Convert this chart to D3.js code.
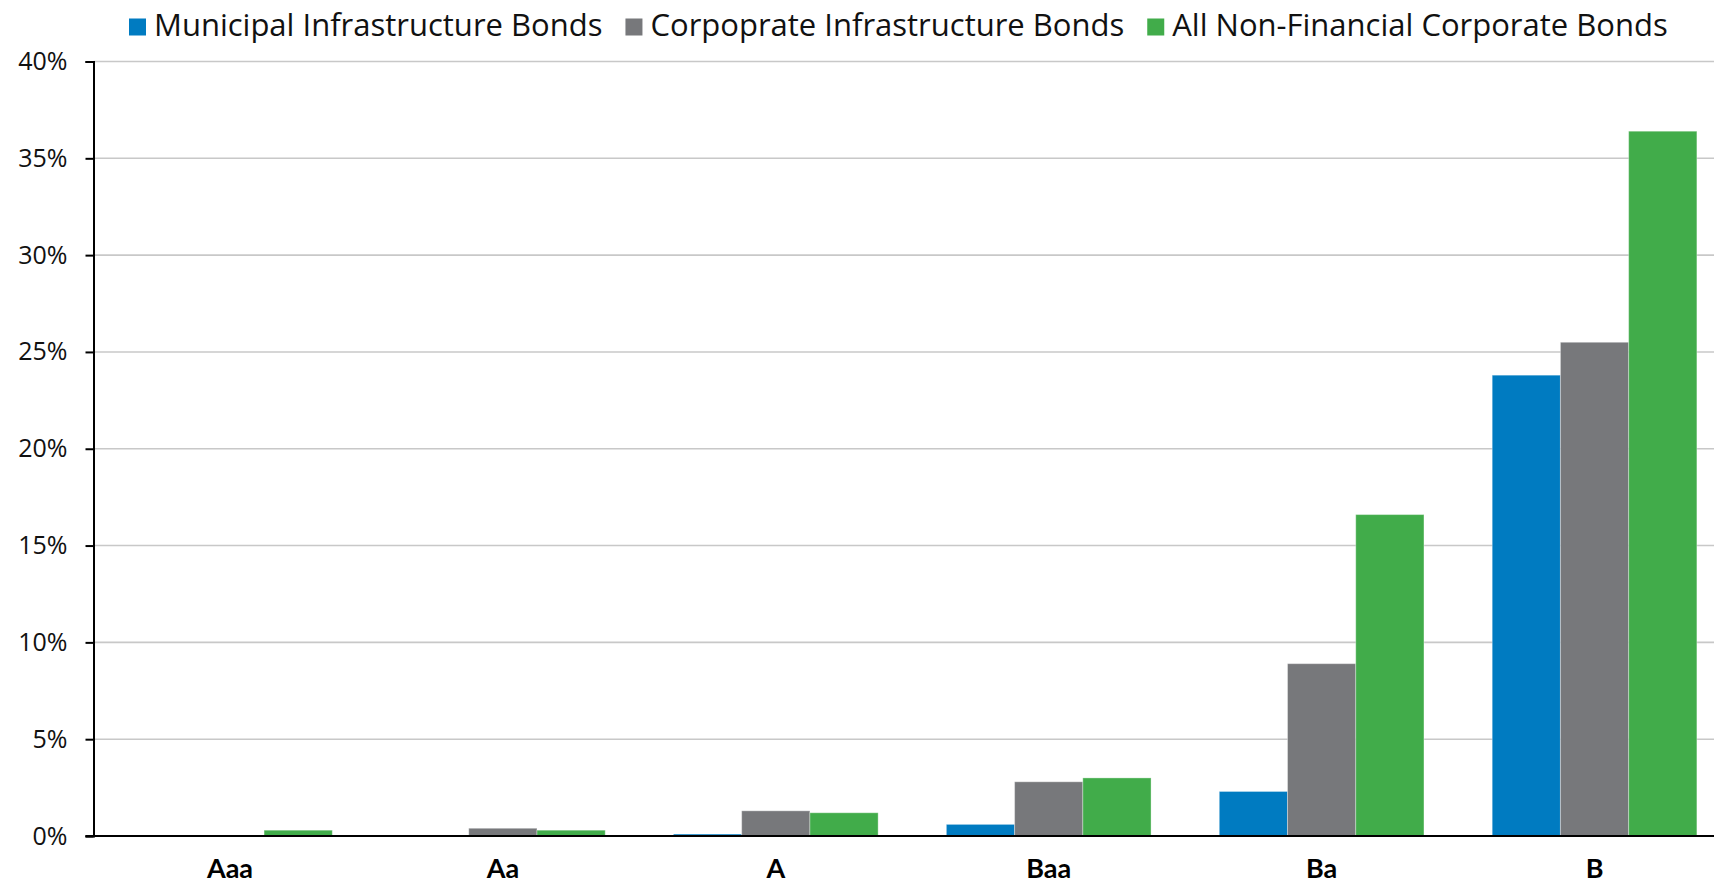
<!DOCTYPE html>
<html>
<head>
<meta charset="utf-8">
<script src="https://cdn.jsdelivr.net/npm/d3@7"></script>
<style>
  body { margin: 0; background: #fff; }
  svg { display: block; font-family: "Open Sans", Lato, sans-serif; }
</style>
</head>
<body>
<div class="chart"></div>
<script>
// Data
const ratings = ["Aaa", "Aa", "A", "Baa", "Ba", "B"];
const seriesNames = [
  "Municipal Infrastructure Bonds",
  "Corpoprate Infrastructure Bonds",
  "All Non-Financial Corporate Bonds"
];
const municipal = [0, 0, 0.1, 0.6, 2.3, 23.8];
const corporate = [0, 0.4, 1.3, 2.8, 8.9, 25.5];
const allNonFin = [0.3, 0.3, 1.2, 3.0, 16.6, 36.4];
const yTicks = [0, 5, 10, 15, 20, 25, 30, 35, 40];
const colors = ["#007bc1", "#77787b", "#41ac4a"];

// Sizes
const w = 1714;
const h = 885;
const margin = { top: 61.5, right: -17, bottom: 49, left: 93.5 };

const svg = d3
  .select(".chart")
  .append("svg")
  .attr("width", w)
  .attr("height", h);

const rows = ratings.map((r, i) => ({
  rating: r,
  values: [municipal[i], corporate[i], allNonFin[i]]
}));

// Scales
const xScale = d3
  .scaleBand()
  .domain(ratings)
  .range([margin.left, w - margin.right])
  .paddingInner(0.25)
  .paddingOuter(0.125);

const xSub = d3
  .scaleBand()
  .domain(d3.range(seriesNames.length))
  .range([0, xScale.bandwidth()]);

const yScale = d3
  .scaleLinear()
  .domain([0, 40])
  .range([h - margin.bottom, margin.top]);

// Grid lines
svg
  .append("g")
  .selectAll("line")
  .data(yTicks.filter((d) => d > 0))
  .enter()
  .append("line")
  .attr("x1", margin.left)
  .attr("x2", w)
  .attr("y1", (d) => yScale(d))
  .attr("y2", (d) => yScale(d))
  .attr("stroke", "#c8c8c8")
  .attr("stroke-width", 1.6);

// Bars
const groups = svg
  .append("g")
  .selectAll("g")
  .data(rows)
  .enter()
  .append("g")
  .attr("transform", (d) => `translate(${xScale(d.rating)},0)`);

groups
  .selectAll("rect")
  .data((d) => d.values)
  .enter()
  .append("rect")
  .attr("x", (d, i) => xSub(i))
  .attr("y", (d) => yScale(d))
  .attr("width", xSub.bandwidth())
  .attr("height", (d) => yScale(0) - yScale(d))
  .attr("fill", (d, i) => colors[i])
  .attr("stroke", "rgba(255,255,255,0.35)")
  .attr("stroke-width", 1);

// Y Axis
const yAxis = svg
  .append("g")
  .attr("transform", `translate(${margin.left},0)`)
  .call(
    d3.axisLeft(yScale)
      .tickValues(yTicks)
      .tickSize(8)
      .tickPadding(18)
      .tickFormat((d) => d + "%")
  );
yAxis.select(".domain").attr("stroke", "#000").attr("stroke-width", 2);
yAxis.selectAll(".tick line").attr("stroke", "#000").attr("stroke-width", 2);
yAxis
  .selectAll(".tick text")
  .attr("fill", "#111")
  .style("font-family", "'Open Sans', sans-serif")
  .style("font-size", "25px");

// X Axis
const xAxis = svg
  .append("g")
  .attr("transform", `translate(0,${yScale(0)})`)
  .call(d3.axisBottom(xScale).tickSize(0).tickPadding(0));
xAxis
  .select(".domain")
  .attr("d", `M${margin.left - 8},0H${w}`)
  .attr("stroke", "#000")
  .attr("stroke-width", 2);
xAxis
  .selectAll(".tick text")
  .attr("dy", 0)
  .attr("y", 42)
  .attr("fill", "#000")
  .style("font-family", "Lato, sans-serif")
  .style("font-weight", "bold")
  .style("font-size", "27px");

// Legend
const legend = svg.append("g").attr("transform", "translate(129,0)");
let lx = 0;
seriesNames.forEach((name, i) => {
  const item = legend.append("g").attr("transform", `translate(${lx},0)`);
  item
    .append("rect")
    .attr("x", 0)
    .attr("y", 18.5)
    .attr("width", 17)
    .attr("height", 17)
    .attr("fill", colors[i]);
  const t = item
    .append("text")
    .attr("x", 25)
    .attr("y", 36)
    .attr("fill", "#111")
    .style("font-size", "31px")
    .text(name);
  lx += 25 + t.node().getComputedTextLength() + 23;
});
</script>
</body>
</html>
